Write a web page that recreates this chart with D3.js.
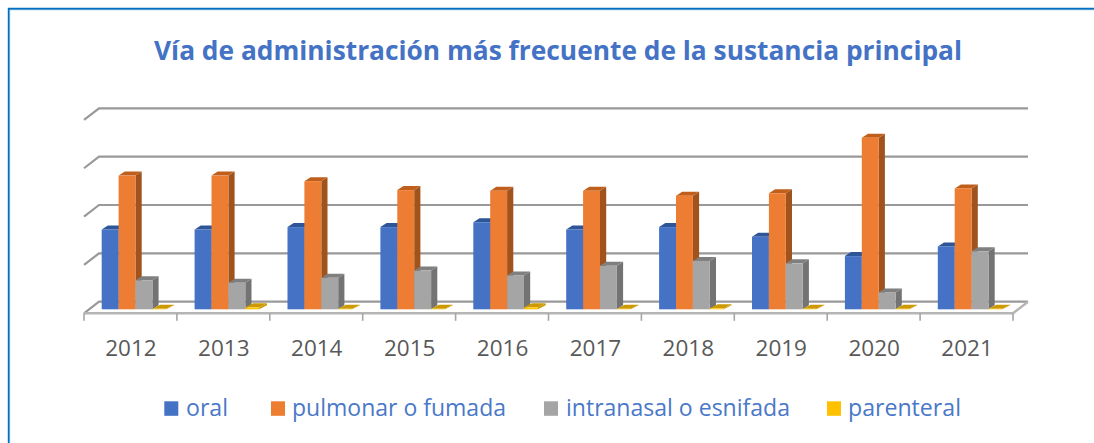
<!DOCTYPE html>
<html><head><meta charset="utf-8">
<script src="https://cdnjs.cloudflare.com/ajax/libs/d3/7.8.5/d3.min.js"></script>
<style>html,body{margin:0;padding:0;background:#fff;overflow:hidden}svg{display:block}text{font-family:"Open Sans",sans-serif}</style>
</head><body><div id="c"></div>
<script>
const years = ["2012","2013","2014","2015","2016","2017","2018","2019","2020","2021"];
const seriesNames = ["oral","pulmonar o fumada","intranasal o esnifada","parenteral"];
const oral = [33,33,34,34,36,33,34,30,22,26];
const pulmonar = [55.3,55.3,53,49.3,49,49,47,48,71,50];
const intranasal = [12,11,13,16,14,18,20,19,7,24];
const parenteral = [0.2,0.8,0.2,0.2,0.8,0.2,0.4,0.2,0.2,0.2];
const gridTicks = [0,20,40,60,80];
const frontColors = ["#4472C4","#ED7D31","#A5A5A5","#FFC000"];
const topColors = ["#2F5597","#C05F1E","#7F7F7F","#CC9A06"];
const sideColors = ["#2F5597","#A0521C","#737373","#CC9A06"];
const seriesValues = [oral,pulmonar,intranasal,parenteral];

const W=1094,H=443;
const svg=d3.select("#c").append("svg").attr("width",W).attr("height",H);
const soft=svg.append("defs").append("filter").attr("id","soft");
soft.append("feGaussianBlur").attr("stdDeviation",0.5);

const x=d3.scaleBand().domain(years).range([84,1013]);
const xs=d3.scaleBand().domain(seriesNames).range([17.7,85.3]);
const y=d3.scaleLinear().domain([0,80]).range([301.7,108.3]);
const wall={dx:15,dy:-11.6};
const barDepth={dx:6.2,dy:-4};
const baseShift=7.6;

// frame
svg.append("path").attr("d","M9.5,443V9.5H1094").attr("fill","none").attr("stroke","#9DC3E6").attr("stroke-width",1.4);
svg.append("path").attr("d","M8.6,443V8.6H1094").attr("fill","none").attr("stroke","#0070C0").attr("stroke-width",1.6);

// title
svg.append("text").attr("x",558).attr("y",60).attr("text-anchor","middle")
  .attr("font-size",27).attr("font-weight",700).attr("fill","#4472C4")
  .attr("textLength",808).attr("lengthAdjust","spacingAndGlyphs")
  .text("Vía de administración más frecuente de la sustancia principal");

const plot=svg.append("g").attr("filter","url(#soft)");
const backL=x.range()[0]+wall.dx, backR=x.range()[1]+wall.dx;
plot.selectAll("path.grid").data(gridTicks).join("path").attr("class","grid")
  .attr("d",t=>`M${backL-wall.dx},${y(t)-wall.dy}L${backL},${y(t)}H${backR}`)
  .attr("fill","none").attr("stroke","#999999").attr("stroke-width",2.2);

const fy=y(0)-wall.dy;
plot.append("path").attr("d",`M${backR},${y(0)}L${x.range()[1]},${fy}H${x.range()[0]}`)
  .attr("fill","none").attr("stroke","#b5b5b5").attr("stroke-width",2.4);
const tickPos=years.map(d=>x(d)).concat([x.range()[1]]);
plot.selectAll("line.tick").data(tickPos).join("line").attr("class","tick")
  .attr("x1",d=>d).attr("x2",d=>d).attr("y1",fy).attr("y2",fy+7.5)
  .attr("stroke","#a6a6a6").attr("stroke-width",1.6);

const b=xs.bandwidth(),base=y(0)+baseShift;
years.forEach((yr,i)=>{
  const g=plot.append("g");
  seriesNames.forEach((s,k)=>{
    const v=seriesValues[k][i];
    const x0=x(yr)+xs(s), top=y(v)+baseShift;
    const dx=k===3?7.8:barDepth.dx, dy=barDepth.dy;
    const w=k===3?b-3:b;
    g.append("path").attr("fill",sideColors[k])
      .attr("d",`M${x0+w},${top}L${x0+w+dx},${top+dy}V${base+dy}L${x0+w},${base}Z`);
    g.append("path").attr("fill",topColors[k])
      .attr("d",`M${x0},${top}L${x0+dx},${top+dy}H${x0+w+dx}L${x0+w},${top}Z`);
    g.append("rect").attr("x",x0).attr("y",top).attr("width",w).attr("height",base-top).attr("fill",frontColors[k]);
  });
});

svg.selectAll("text.cat").data(years).join("text").attr("class","cat")
  .attr("x",d=>x(d)+x.bandwidth()/2+0.5).attr("y",355.5).attr("text-anchor","middle")
  .attr("font-size",22.5).attr("fill","#595959").text(d=>d);

const legendSq=[164.3,271,544,827], legendTx=[186,292,566,848], legendW=[42,214,224,113];
const lg=svg.selectAll("g.lg").data(seriesNames).join("g").attr("class","lg");
lg.append("rect").attr("x",(d,i)=>legendSq[i]).attr("y",401.3).attr("width",14).attr("height",14.5).attr("fill",(d,i)=>frontColors[i]);
lg.append("text").attr("x",(d,i)=>legendTx[i]).attr("y",416).attr("font-size",23).attr("fill","#4a78c8")
  .attr("textLength",(d,i)=>legendW[i]).attr("lengthAdjust","spacingAndGlyphs").text(d=>d);
</script></body></html>
